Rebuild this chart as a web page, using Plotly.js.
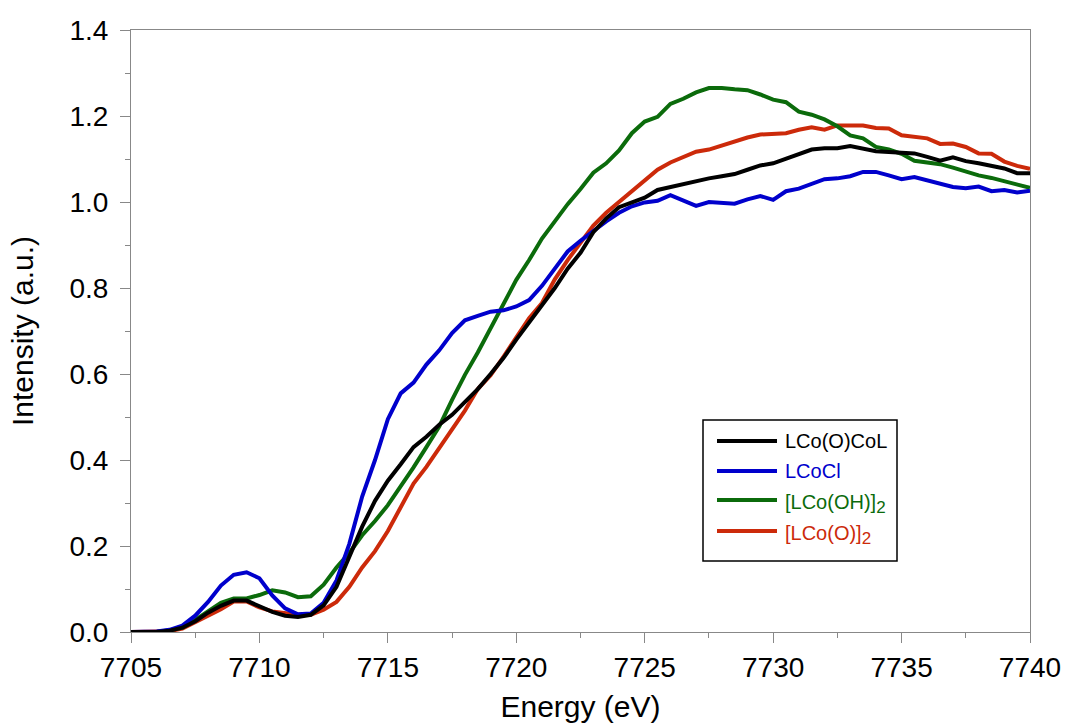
<!DOCTYPE html>
<html>
<head>
<meta charset="utf-8">
<script src="https://cdn.plot.ly/plotly-3.0.1.min.js"></script>
<style>html,body{margin:0;padding:0;background:#fff;}#chart{width:1065px;height:724px;}</style>
</head>
<body>
<div id="chart"></div>
<script>
// Energy grid (eV), 0.5 eV steps
const energy = [
7705,7705.5,7706,7706.5,7707,7707.5,7708,7708.5,7709,7709.5,
7710,7710.5,7711,7711.5,7712,7712.5,7713,7713.5,7714,7714.5,
7715,7715.5,7716,7716.5,7717,7717.5,7718,7718.5,7719,7719.5,
7720,7720.5,7721,7721.5,7722,7722.5,7723,7723.5,7724,7724.5,
7725,7725.5,7726,7726.5,7727,7727.5,7728,7728.5,7729,7729.5,
7730,7730.5,7731,7731.5,7732,7732.5,7733,7733.5,7734,7734.5,
7735,7735.5,7736,7736.5,7737,7737.5,7738,7738.5,7739,7739.5,7740];

const lcooCol = [
0,0,0,0.003,0.01,0.025,0.045,0.061,0.073,0.073,
0.06,0.047,0.038,0.035,0.04,0.062,0.105,0.175,0.245,0.305,
0.352,0.39,0.43,0.454,0.482,0.505,0.535,0.565,0.6,0.637,
0.68,0.72,0.758,0.80,0.845,0.882,0.93,0.962,0.988,1.0,
1.01,1.028,1.035,1.04,1.048,1.055,1.06,1.065,1.075,1.085,
1.09,1.1,1.11,1.122,1.125,1.125,1.13,1.125,1.118,1.116,
1.115,1.113,1.105,1.096,1.104,1.095,1.09,1.085,1.078,1.067,1.067];

const lcocl = [
0,0,0.001,0.005,0.015,0.038,0.07,0.108,0.133,0.139,
0.125,0.085,0.055,0.041,0.043,0.068,0.12,0.205,0.315,0.40,
0.495,0.555,0.58,0.622,0.655,0.695,0.725,0.735,0.745,0.748,
0.757,0.772,0.805,0.845,0.885,0.91,0.933,0.955,0.975,0.99,
0.999,1.003,1.016,1.003,0.991,1.0,0.998,0.996,1.006,1.014,
1.005,1.025,1.031,1.042,1.053,1.055,1.06,1.07,1.07,1.062,
1.053,1.058,1.051,1.044,1.035,1.032,1.036,1.025,1.028,1.022,1.026];

const lcoOH2 = [
0,0,0,0.004,0.01,0.028,0.048,0.068,0.078,0.078,
0.086,0.097,0.092,0.081,0.083,0.11,0.15,0.184,0.225,0.258,
0.295,0.337,0.383,0.43,0.478,0.54,0.598,0.65,0.707,0.765,
0.819,0.865,0.915,0.955,0.995,1.03,1.068,1.09,1.12,1.16,
1.187,1.198,1.228,1.24,1.255,1.265,1.265,1.262,1.26,1.25,
1.238,1.232,1.21,1.203,1.192,1.176,1.155,1.148,1.128,1.122,
1.112,1.096,1.093,1.088,1.08,1.07,1.062,1.056,1.048,1.04,1.033];

const lcoO2 = [
0,0,0,0.002,0.008,0.022,0.038,0.053,0.071,0.071,
0.057,0.048,0.043,0.04,0.04,0.052,0.07,0.105,0.15,0.188,
0.235,0.288,0.345,0.384,0.428,0.468,0.515,0.565,0.597,0.64,
0.685,0.73,0.765,0.82,0.865,0.905,0.945,0.975,1.0,1.028,
1.05,1.075,1.092,1.105,1.117,1.122,1.132,1.14,1.15,1.157,
1.158,1.16,1.168,1.174,1.168,1.178,1.178,1.178,1.172,1.171,
1.155,1.152,1.148,1.135,1.136,1.128,1.113,1.112,1.094,1.084,1.077];

const seriesNames = ["LCo(O)CoL", "LCoCl", "[LCo(OH)]<sub>2</sub>", "[LCo(O)]<sub>2</sub>"];
const seriesColors = ["#000000", "#0000cc", "#0b6b0b", "#cc2a0a"];
const seriesData = [lcooCol, lcocl, lcoOH2, lcoO2];

const xTickVals = [7705,7710,7715,7720,7725,7730,7735,7740];
const yTickVals = [0,0.2,0.4,0.6,0.8,1.0,1.2,1.4];
const yTickText = ["0.0","0.2","0.4","0.6","0.8","1.0","1.2","1.4"];

// plot-area geometry (pixels) for the hand-placed legend box
const W = 1065, H = 724, ML = 131, MR = 35, MT = 30, MB = 92;
const PW = W - ML - MR, PH = H - MT - MB;
const px = v => (v - ML) / PW;
const py = v => (H - MB - v) / PH;

const FONT = "Liberation Sans, Arial, sans-serif";

const traces = seriesData.map((d, i) => ({
  x: energy, y: d, type: "scatter", mode: "lines", name: seriesNames[i],
  line: {color: seriesColors[i], width: 4}, showlegend: false
}));
const order = [3, 2, 1, 0];
const data = order.map(i => traces[i]);

const rows = [441, 471, 500, 531];
const shapes = [{
  type: "rect", xref: "paper", yref: "paper",
  x0: px(703), x1: px(897), y0: py(561), y1: py(420),
  line: {color: "#000", width: 1.5}, fillcolor: "rgba(255,255,255,0)"
}];
const annotations = [];
rows.forEach((r, i) => {
  shapes.push({type: "line", xref: "paper", yref: "paper",
    x0: px(717), x1: px(777), y0: py(r), y1: py(r),
    line: {color: seriesColors[i], width: 4}});
  const hasSub = seriesNames[i].indexOf("<sub>") >= 0;
  annotations.push({xref: "paper", yref: "paper", x: px(783), y: py(hasSub ? r + 4 : r),
    xanchor: "left", yanchor: "middle", showarrow: false,
    text: seriesNames[i].replace("<sub>", '<sub><span style="font-size:17px">').replace("</sub>", "</span></sub>"),
    font: {size: 20, color: seriesColors[i], family: FONT}});
});

const axisCommon = {
  showgrid: false, zeroline: false, showline: true, linecolor: "#888", linewidth: 1,
  mirror: true, ticks: "outside", ticklen: 10, tickcolor: "#888", tickwidth: 1,
  tickfont: {size: 28, color: "#000", family: FONT}
};

const layout = {
  width: W, height: H,
  margin: {l: ML, r: MR, t: MT, b: MB},
  paper_bgcolor: "#fff", plot_bgcolor: "#fff",
  font: {family: FONT, color: "#000"},
  xaxis: Object.assign({}, axisCommon, {
    range: [7705, 7740], tickvals: xTickVals,
    minor: {dtick: 2.5, ticks: "outside", ticklen: 5, tickcolor: "#888", tickwidth: 1, showgrid: false},
    title: {text: "Energy (eV)", font: {size: 30}, standoff: 14}
  }),
  yaxis: Object.assign({}, axisCommon, {
    range: [0, 1.4], tickvals: yTickVals, ticktext: yTickText, ticklabelstandoff: 6,
    minor: {dtick: 0.1, ticks: "outside", ticklen: 5, tickcolor: "#888", tickwidth: 1, showgrid: false},
    title: {text: "Intensity (a.u.)", font: {size: 30}, standoff: 26}
  }),
  shapes: shapes, annotations: annotations,
  showlegend: false
};

Plotly.newPlot("chart", data, layout, {displayModeBar: false, staticPlot: true});
</script>
</body>
</html>
